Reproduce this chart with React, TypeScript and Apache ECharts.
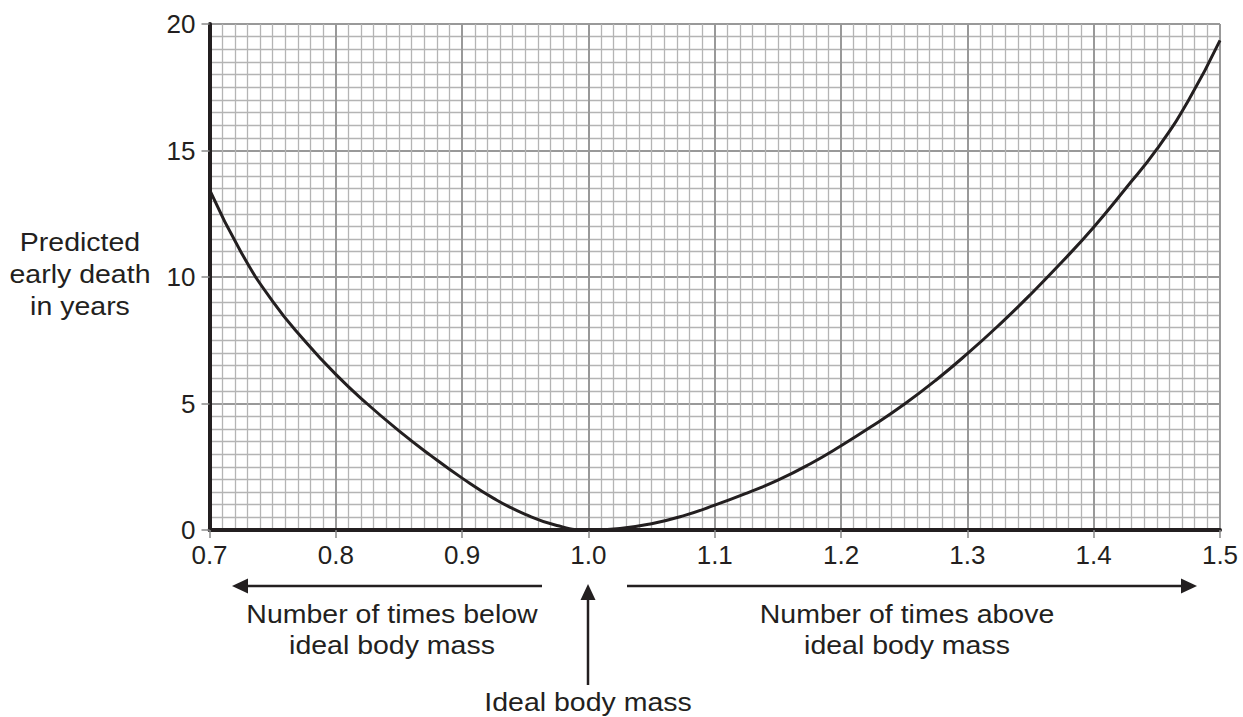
import React, { useEffect, useRef } from "react";
import * as echarts from "echarts";

const xValues = [0.7, 0.725, 0.75, 0.775, 0.8, 0.825, 0.85, 0.875, 0.9, 0.925, 0.95, 0.975, 1.0, 1.025, 1.05, 1.075, 1.1, 1.125, 1.15, 1.175, 1.2, 1.225, 1.25, 1.275, 1.3, 1.325, 1.35, 1.375, 1.4, 1.425, 1.45, 1.475, 1.5];
const earlyDeath = [13.45, 10.98, 9.04, 7.5, 6.15, 4.98, 3.92, 2.95, 2.05, 1.25, 0.62, 0.18, 0.0, 0.06, 0.25, 0.56, 0.98, 1.45, 1.97, 2.6, 3.33, 4.12, 4.97, 5.92, 6.97, 8.1, 9.31, 10.6, 11.97, 13.48, 15.05, 16.98, 19.35];
const yTicks = [0, 5, 10, 15, 20];
const xTickLabels = ["0.7", "0.8", "0.9", "1.0", "1.1", "1.2", "1.3", "1.4", "1.5"];

const yTitle = "Predicted\nearly death\nin years";
const belowText = "Number of times below\nideal body mass";
const aboveText = "Number of times above\nideal body mass";
const idealText = "Ideal body mass";

const INK = "#231f20";
const FONT = "'Liberation Sans', Arial, Helvetica, sans-serif";

export default function App() {
  const ref = useRef<HTMLDivElement>(null);
  useEffect(() => {
    if (!ref.current) return;
    const chart = echarts.init(ref.current, undefined, { renderer: "svg" });
    const textStyle = (text: string, lh: number) => ({
      text,
      fill: INK,
      font: `25px ${FONT}`,
      fontSize: 25,
      fontFamily: FONT,
      align: "center",
      verticalAlign: "middle",
      lineHeight: lh,
    });
    chart.setOption({
      animation: false,
      backgroundColor: "#ffffff",
      grid: { left: 209.5, top: 24, right: 23, bottom: 187, containLabel: false },
      xAxis: {
        type: "value",
        min: 0.7,
        max: 1.5,
        interval: 0.1,
        axisLine: { show: true, onZero: false, lineStyle: { color: INK, width: 4 } },
        axisTick: { show: true, length: 8, lineStyle: { color: "#8a8a8a", width: 1.5 } },
        axisLabel: {
          margin: 12,
          color: INK,
          fontSize: 26,
          fontFamily: FONT,
          formatter: (v: number) => {
            const i = Math.round((v - 0.7) / 0.1);
            return xTickLabels[i] ?? "";
          },
        },
        splitLine: { show: true, lineStyle: { color: "#999999", width: 2 } },
        minorTick: { show: false, splitNumber: 10 },
        minorSplitLine: { show: true, lineStyle: { color: "#b4b4b4", width: 1.3 } },
      },
      yAxis: {
        type: "value",
        min: yTicks[0],
        max: yTicks[yTicks.length - 1],
        interval: 5,
        axisLine: { show: true, onZero: false, lineStyle: { color: INK, width: 4 } },
        axisTick: { show: true, length: 8, lineStyle: { color: "#8a8a8a", width: 1.5 } },
        axisLabel: { margin: 14, color: INK, fontSize: 26, fontFamily: FONT },
        splitLine: { show: true, lineStyle: { color: "#999999", width: 2 } },
        minorTick: { show: false, splitNumber: 10 },
        minorSplitLine: { show: true, lineStyle: { color: "#b4b4b4", width: 1.3 } },
      },
      series: [
        {
          type: "line",
          data: xValues.map((x, i) => [x, earlyDeath[i]]),
          smooth: 0.5,
          showSymbol: false,
          lineStyle: { color: INK, width: 3 },
          z: 5,
        },
      ],
      graphic: [
        { type: "text", x: 80, y: 275, scaleX: 1.14, style: textStyle(yTitle, 32) },
        { type: "text", x: 392, y: 630, scaleX: 1.14, style: textStyle(belowText, 31) },
        { type: "text", x: 907, y: 630, scaleX: 1.14, style: textStyle(aboveText, 31) },
        { type: "text", x: 588, y: 703, scaleX: 1.14, style: textStyle(idealText, 31) },
        { type: "line", shape: { x1: 542, y1: 586, x2: 244, y2: 586 }, style: { stroke: INK, lineWidth: 2.5 } },
        { type: "polygon", shape: { points: [[232, 586], [248, 578.5], [248, 593.5]] }, style: { fill: INK } },
        { type: "line", shape: { x1: 627, y1: 586, x2: 1185, y2: 586 }, style: { stroke: INK, lineWidth: 2.5 } },
        { type: "polygon", shape: { points: [[1197, 586], [1181, 578.5], [1181, 593.5]] }, style: { fill: INK } },
        { type: "line", shape: { x1: 588, y1: 685, x2: 588, y2: 597 }, style: { stroke: INK, lineWidth: 2.5 } },
        { type: "polygon", shape: { points: [[588, 584], [580.5, 600], [595.5, 600]] }, style: { fill: INK } },
      ],
    });
    return () => chart.dispose();
  }, []);
  return (
    <div
      ref={ref}
      style={{ position: "fixed", left: 0, top: 0, width: 1243, height: 717, background: "#fff" }}
    />
  );
}
